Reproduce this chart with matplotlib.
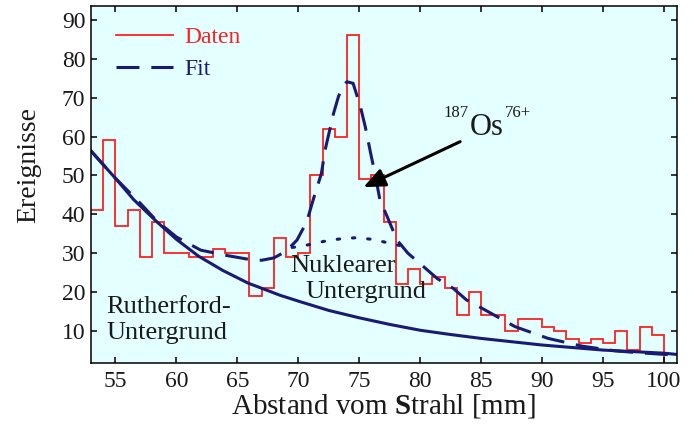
import matplotlib
matplotlib.use("Agg")
import matplotlib.pyplot as plt
from matplotlib.lines import Line2D

plt.rcParams["font.family"] = ["Liberation Serif", "DejaVu Serif"]
plt.rcParams["mathtext.fontset"] = "custom"
plt.rcParams["mathtext.rm"] = "Liberation Serif"
plt.rcParams["mathtext.bf"] = "Liberation Serif:bold"

# Histogramm: 1-mm-Bins von 53 bis 101 mm
kanten = list(range(53, 102))
ereignisse = [41, 59, 37, 41, 29, 38, 30, 30, 29, 29,
              31, 30, 30, 19, 21, 34, 29, 30, 50, 62,
              60, 86, 49, 50, 38, 22, 26, 22, 24, 21,
              14, 20, 14, 14, 10, 13, 13, 11, 10, 8,
              7, 8, 7, 10, 5, 11, 9, 0]

# Rutherford-Untergrund
ruth_x = [53, 55, 56.5, 58.4, 60, 61.8, 63.8, 65.9, 67, 68.5, 70.2, 72.5,
          75, 77.5, 80, 82.5, 85, 90, 95, 100, 101]
ruth_y = [56.3, 49.3, 43.8, 38.1, 33.6, 29.3, 25.6, 22.3, 21.0, 19.2, 17.5, 15.3,
          13.4, 11.7, 10.2, 9.1, 8.1, 6.4, 5.1, 4.3, 4.0]

# Gesamtfit
fit_x = [53, 55, 57, 58.4, 60, 62, 64, 66, 67, 68, 69, 69.9, 70.7, 71.25,
         71.9, 72.2, 72.9, 73.3, 73.7, 74.0, 74.5, 75.1, 75.5, 76.0, 76.3,
         76.7, 77.3, 78.1, 79.0, 80.3, 81.4, 82.7, 83.8, 85.1, 87.8, 90.5,
         93.3, 96, 98, 101]
fit_y = [56.3, 49.3, 43.0, 38.3, 34.2, 30.8, 29.5, 28.4, 28.2, 28.8, 30.5,
         33.4, 38.1, 44.0, 50.5, 56.5, 66.0, 70.3, 73.2, 74.1, 73.7, 67.7,
         62.5, 54.8, 50.5, 43.7, 39.4, 33.4, 30.0, 26.5, 23.5, 21.0, 18.0,
         15.8, 11.1, 8.1, 6.1, 4.9, 4.4, 3.8]

# Nuklearer Untergrund
nukl_x = [69.5, 70.3, 71.4, 72.5, 73.7, 74.8, 76.0, 77.2, 78.3]
nukl_y = [31.5, 31.8, 32.6, 33.3, 33.8, 34.0, 33.6, 32.8, 32.0]

rot = "#ff2020"
blau = "#1a1a72"
textfarbe = "#1a1a1a"

fig = plt.figure(figsize=(6.94, 4.24), dpi=100)
ax = fig.add_axes([0.1311, 0.145, 0.8439, 0.841])
ax.set_facecolor("#e3ffff")

ax.stairs(ereignisse, kanten, baseline=None, color=rot, lw=1.3)
ax.plot(ruth_x, ruth_y, color=blau, lw=2.2)
ax.plot(fit_x, fit_y, color=blau, lw=2.2, dashes=(7.5, 3.9))
ax.plot(nukl_x, nukl_y, color=blau, lw=2.2, linestyle=(0, (0.8, 4.2)),
        dash_capstyle="round")

ax.set_xlim(53, 101.04)
ax.set_ylim(1.9, 93.6)
ax.set_xticks(range(55, 101, 5))
ax.set_yticks(range(10, 91, 10))
ax.tick_params(direction="in", top=True, right=True, length=4.5, width=1.1,
               labelsize=17, labelcolor=textfarbe)
ax.tick_params(axis="x", pad=6)
ax.tick_params(axis="y", pad=4)
for s in ax.spines.values():
    s.set_linewidth(1.1)

ax.set_xlabel(r"Abstand vom $\mathbf{S}$trahl [mm]", fontsize=21,
              color=textfarbe, labelpad=0)
ax.set_ylabel("Ereignisse", fontsize=20, color=textfarbe)
ax.yaxis.set_label_coords(-0.085, 0.555)

ax.text(54.26, 14.55, "Rutherford-", fontsize=19, color=textfarbe)
ax.text(54.26, 7.86, "Untergrund", fontsize=19, color=textfarbe)
ax.text(69.34, 25.25, "Nuklearer", fontsize=19, color=textfarbe)
ax.text(70.57, 18.4, "Untergrund", fontsize=19, color=textfarbe)

ax.text(81.89, 64.97, "187", fontsize=12, color=textfarbe)
ax.text(84.1, 60.4, "Os", fontsize=22, color=textfarbe)
ax.text(86.95, 65.1, "76+", fontsize=12, color=textfarbe)
ax.annotate("", xy=(75.35, 47.0), xytext=(83.28, 58.7),
            arrowprops=dict(arrowstyle="-|>,head_length=0.65,head_width=0.28",
                            lw=2.2, color="black", mutation_scale=20,
                            shrinkA=0, shrinkB=0))

handles = [Line2D([], [], color=rot, lw=1.3),
           Line2D([], [], color=blau, lw=2.2, dashes=(7.5, 3.9))]
leg = ax.legend(handles, ["Daten", "Fit"], loc="upper left",
                bbox_to_anchor=(0.0427, 0.942), frameon=False, fontsize=17,
                borderpad=0, borderaxespad=0, handlelength=2.4,
                handletextpad=0.5, labelspacing=0.45)
leg.get_texts()[0].set_color(rot)
leg.get_texts()[1].set_color(blau)

fig.savefig("out.png", dpi=100, facecolor="white")
